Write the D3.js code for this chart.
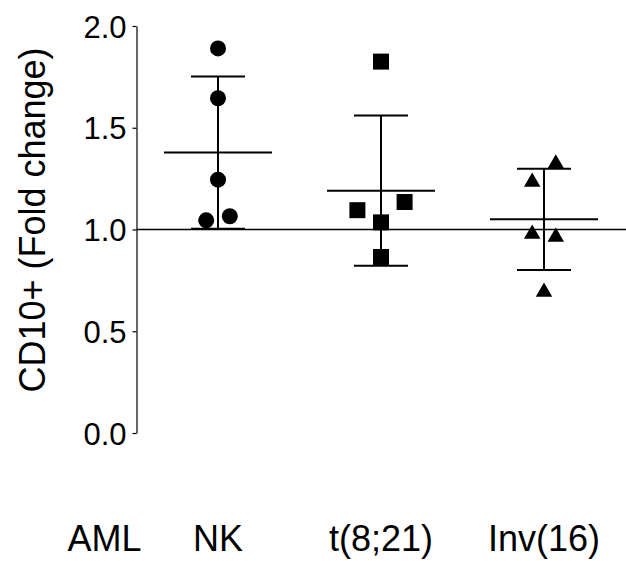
<!DOCTYPE html>
<html>
<head>
<meta charset="utf-8">
<script src="https://cdn.jsdelivr.net/npm/d3@7"></script>
<style>
  body { margin: 0; background: #fff; }
  text { font-family: "Liberation Sans", Arial, sans-serif; fill: #000; }
</style>
</head>
<body>
<div id="my_dataviz"></div>
<script>
// data
var groups = ["NK", "t(8;21)", "Inv(16)"];
var nkValues = [1.89, 1.645, 1.245, 1.045, 1.065];
var t821Values = [1.825, 1.095, 1.135, 1.035, 0.865];
var inv16Values = [1.335, 1.245, 0.99, 0.975, 0.705];
// horizontal slot of each point (GraphPad scatter spreading)
var nkSlots = [0, 0, 0, -1, 1];
var t821Slots = [0, -2, 2, 0, 0];
var inv16Slots = [1, -1, -1, 1, 0];
var yTicks = [0, 0.5, 1, 1.5, 2];
var rowTitle = "AML";
var yTitle = "CD10+ (Fold change)";

var series = [
  {group: groups[0], values: nkValues, slots: nkSlots, symbol: d3.symbolCircle, size: 201},
  {group: groups[1], values: t821Values, slots: t821Slots, symbol: d3.symbolSquare, size: 256},
  {group: groups[2], values: inv16Values, slots: inv16Slots, symbol: d3.symbolTriangle, size: 118}
];

var W = 626, H = 561;

var svg = d3.select("#my_dataviz")
  .append("svg")
    .attr("width", W)
    .attr("height", H);

var y = d3.scaleLinear()
  .domain([0, 2])
  .range([433, 26]);

var x = d3.scaleBand()
  .domain(groups)
  .range([136.5, 625.5]);

var slotStep = 11.8;
function cx(g) { return x(g) + x.bandwidth() / 2; }

// y axis
var yAxis = svg.append("g")
  .attr("transform", "translate(136.5,0)")
  .call(d3.axisLeft(y)
    .tickValues(yTicks)
    .tickFormat(d3.format(".1f"))
    .tickSize(4)
    .tickSizeOuter(0)
    .tickPadding(6));
yAxis.selectAll("path, line").attr("stroke", "#000").attr("stroke-width", 1.2);
yAxis.selectAll("text")
  .style("font-size", "31px")
  .attr("dy", "0.36em");

svg.append("text")
  .attr("transform", "translate(45,220) rotate(-90)")
  .attr("text-anchor", "middle")
  .style("font-size", "36px")
  .text(yTitle);

// reference line at 1.0
svg.append("line")
  .attr("x1", 136.5)
  .attr("x2", W)
  .attr("y1", y(1))
  .attr("y2", y(1))
  .attr("stroke", "#000")
  .attr("stroke-width", 1.5);

// mean +/- SD
series.forEach(function(s) {
  var m = d3.mean(s.values), sd = d3.deviation(s.values);
  var c = cx(s.group);
  var g = svg.append("g").attr("stroke", "#000").attr("stroke-width", 2);
  g.append("line").attr("x1", c).attr("x2", c).attr("y1", y(m + sd)).attr("y2", y(m - sd));
  g.append("line").attr("x1", c - 27).attr("x2", c + 27).attr("y1", y(m + sd)).attr("y2", y(m + sd));
  g.append("line").attr("x1", c - 27).attr("x2", c + 27).attr("y1", y(m - sd)).attr("y2", y(m - sd));
  g.append("line").attr("x1", c - 54).attr("x2", c + 54).attr("y1", y(m)).attr("y2", y(m));
});

// points
series.forEach(function(s) {
  var sym = d3.symbol().type(s.symbol).size(s.size);
  // triangles are placed by their bounding box centre
  var yOff = 0;
  if (s.symbol === d3.symbolTriangle) {
    yOff = Math.sqrt(s.size / (Math.sqrt(3) * 3)) / 2;
  }
  svg.selectAll(null)
    .data(s.values)
    .enter()
    .append("path")
      .attr("d", sym)
      .attr("fill", "#000")
      .attr("transform", function(d, i) {
        return "translate(" + (cx(s.group) + s.slots[i] * slotStep) + "," + (y(d) + yOff) + ")";
      });
});

// category labels
svg.append("text")
  .attr("x", 104.5)
  .attr("y", 551)
  .attr("text-anchor", "middle")
  .style("font-size", "36px")
  .text(rowTitle);

svg.selectAll(null)
  .data(groups)
  .enter()
  .append("text")
    .attr("x", function(d) { return cx(d); })
    .attr("y", 551)
    .attr("text-anchor", "middle")
    .style("font-size", "36px")
    .text(function(d) { return d; });
</script>
</body>
</html>
